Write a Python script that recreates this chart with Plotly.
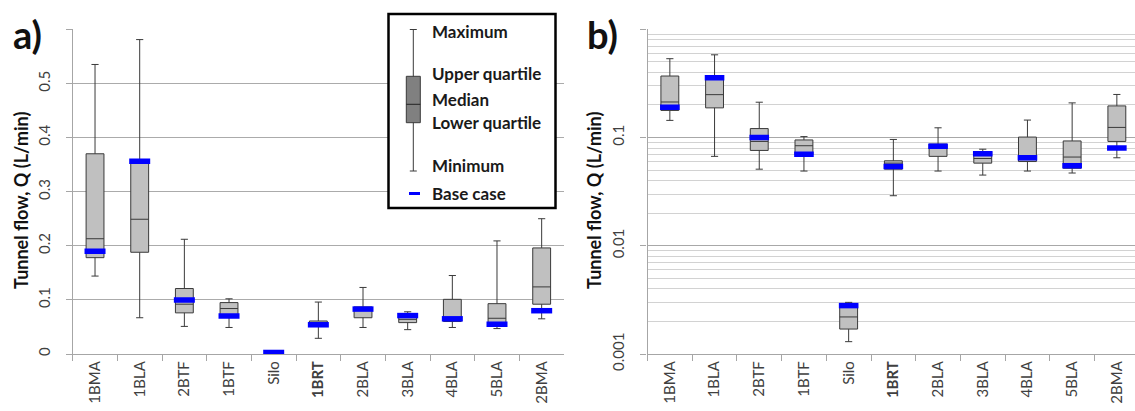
import plotly.graph_objects as go

# ---------------- data ----------------
categories = ["1BMA", "1BLA", "2BTF", "1BTF", "Silo", "1BRT", "2BLA", "3BLA", "4BLA", "5BLA", "2BMA"]
tick_text = ["1BMA", "1BLA", "2BTF", "1BTF", "Silo", "<b>1BRT</b>", "2BLA", "3BLA", "4BLA", "5BLA", "2BMA"]
q_min = [0.144, 0.067, 0.051, 0.049, 0.0013, 0.029, 0.049, 0.045, 0.049, 0.047, 0.065]
q_low = [0.178, 0.188, 0.076, 0.069, 0.0017, 0.051, 0.067, 0.058, 0.060, 0.052, 0.092]
q_med = [0.213, 0.249, 0.092, 0.084, 0.0022, 0.058, 0.081, 0.064, 0.065, 0.066, 0.124]
q_up = [0.370, 0.355, 0.121, 0.095, 0.0029, 0.061, 0.087, 0.074, 0.101, 0.093, 0.196]
q_max = [0.535, 0.581, 0.212, 0.102, 0.0030, 0.096, 0.123, 0.078, 0.145, 0.209, 0.250]
base_case = [0.190, 0.356, 0.100, 0.070, 0.0028, 0.054, 0.083, 0.071, 0.065, 0.055, 0.080]

lin_ticks = [0, 0.1, 0.2, 0.3, 0.4, 0.5, 0.6]
lin_tick_text = ["0", "0.1", "0.2", "0.3", "0.4", "0.5", ""]
log_ticks = [0.001, 0.01, 0.1, 1]
log_tick_text = ["0.001", "0.01", "0.1", ""]
log_minor = [k * 10.0 ** e for e in (-3, -2, -1) for k in range(2, 10)]

# ---------------- layout helpers ----------------
W, H = 1135, 411
FONT = "Lato"


def X(px):
    return px / W


def Y(py):
    return 1 - py / H


BOX_FILL = "#C0C0C0"
BOX_LINE = "#3A3A3A"
BLUE = "#0000FF"

fig = go.Figure()

for xa, ya, msize in (("x", "y", 15), ("x2", "y2", 14)):
    fig.add_trace(go.Box(
        x=categories, q1=q_low, median=q_med, q3=q_up,
        lowerfence=q_min, upperfence=q_max,
        width=0.4, whiskerwidth=0.4,
        fillcolor=BOX_FILL, line=dict(color=BOX_LINE, width=1),
        boxpoints=False, showlegend=False, hoverinfo="skip",
        xaxis=xa, yaxis=ya,
    ))
    fig.add_trace(go.Scatter(
        x=categories, y=base_case, mode="markers",
        marker=dict(symbol="line-ew", size=msize, line=dict(width=5.5, color=BLUE)),
        showlegend=False, hoverinfo="skip", xaxis=xa, yaxis=ya,
    ))

AX_LINE = "#A6A6A6"
TICKFONT = dict(family=FONT, size=15, color="#404040")

xcommon = dict(
    type="category", categoryorder="array", categoryarray=categories,
    tickvals=categories, ticktext=tick_text, tickangle=-90,
    tickson="boundaries", ticks="outside", ticklen=6, tickcolor=AX_LINE,
    showline=True, linecolor=AX_LINE, linewidth=1.3, showgrid=False,
    zeroline=False, tickfont=TICKFONT, automargin=False, fixedrange=True,
)
ydom = [Y(354), Y(29.3)]

fig.update_layout(
    template="none",
    width=W, height=H,
    margin=dict(l=0, r=0, t=0, b=0),
    paper_bgcolor="white", plot_bgcolor="white",
    font=dict(family=FONT, color="#222222"),
    xaxis=dict(domain=[X(72.7), X(564)], range=[-0.5, 10.5], anchor="y", **xcommon),
    xaxis2=dict(domain=[X(647.5), 1.0], range=[-0.5, (1135 - 647.5) / 44.7 - 0.5], anchor="y2", **xcommon),
    yaxis=dict(
        domain=ydom, range=[0, 0.6], anchor="x",
        tickvals=lin_ticks, ticktext=lin_tick_text, tickangle=-90,
        ticks="outside", ticklen=6, tickcolor=AX_LINE, ticklabelstandoff=10,
        showline=True, linecolor=AX_LINE, linewidth=1.3,
        showgrid=True, gridcolor="#ABABAB", gridwidth=1.4, zeroline=False,
        tickfont=TICKFONT, automargin=False, fixedrange=True,
    ),
    yaxis2=dict(
        domain=ydom, type="log", range=[-3, 0], anchor="x2",
        tickvals=log_ticks, ticktext=log_tick_text, tickangle=-90,
        ticks="outside", ticklen=6, tickcolor=AX_LINE, ticklabelstandoff=10,
        showline=True, linecolor=AX_LINE, linewidth=1.3,
        showgrid=True, gridcolor="#A8A8A8", gridwidth=1.4, zeroline=False,
        minor=dict(tickvals=log_minor, showgrid=True, gridcolor="#D2D2D2", gridwidth=1.4, ticks=""),
        tickfont=TICKFONT, automargin=False, fixedrange=True,
    ),
)

# ---------------- annotations: titles & panel labels ----------------
ann = []
for cx, lab in ((27, "a)"), (602, "b)")):
    ann.append(dict(text="<b>%s</b>" % lab, x=X(cx), y=Y(34), xref="paper", yref="paper",
                    xanchor="center", yanchor="middle", showarrow=False,
                    font=dict(family=FONT, size=38, color="#111111")))
for cx in (21, 594):
    ann.append(dict(text="<b>Tunnel flow, Q (L/min)</b>", x=X(cx), y=Y(201), xref="paper", yref="paper",
                    xanchor="center", yanchor="middle", textangle=-90, showarrow=False,
                    font=dict(family=FONT, size=18, color="#111111")))

# ---------------- custom key (legend) ----------------
shapes = []
shapes.append(dict(type="rect", xref="paper", yref="paper", x0=X(388.5), x1=X(555.5), y0=Y(208), y1=Y(14),
                   line=dict(color="black", width=2.5), fillcolor="white", layer="above"))
wx = 413.3
shapes.append(dict(type="line", xref="paper", yref="paper", x0=X(wx), x1=X(wx), y0=Y(171), y1=Y(29.5),
                   line=dict(color="#3A3A3A", width=1), layer="above"))
for cy in (29.5, 171):
    shapes.append(dict(type="line", xref="paper", yref="paper", x0=X(wx - 3.5), x1=X(wx + 3.5), y0=Y(cy), y1=Y(cy),
                       line=dict(color="#3A3A3A", width=1), layer="above"))
shapes.append(dict(type="rect", xref="paper", yref="paper", x0=X(406.3), x1=X(420.3), y0=Y(122.7), y1=Y(76.3),
                   line=dict(color="#3A3A3A", width=1), fillcolor="#808080", layer="above"))
shapes.append(dict(type="line", xref="paper", yref="paper", x0=X(406.3), x1=X(420.3), y0=Y(104.3), y1=Y(104.3),
                   line=dict(color="#222222", width=1), layer="above"))
shapes.append(dict(type="line", xref="paper", yref="paper", x0=X(409), x1=X(420), y0=Y(193.5), y1=Y(193.5),
                   line=dict(color=BLUE, width=3), layer="above"))

key_labels = ["Maximum", "Upper quartile", "Median", "Lower quartile", "Minimum", "Base case"]
key_rows = [31, 73, 99, 122, 166, 193]
for lab, cy in zip(key_labels, key_rows):
    ann.append(dict(text="<b>%s</b>" % lab, x=X(430), y=Y(cy), xref="paper", yref="paper",
                    xanchor="left", yanchor="middle", showarrow=False,
                    font=dict(family=FONT, size=17, color="#1A1A1A")))

fig.update_layout(annotations=ann, shapes=shapes)

fig.write_html("out.html")
